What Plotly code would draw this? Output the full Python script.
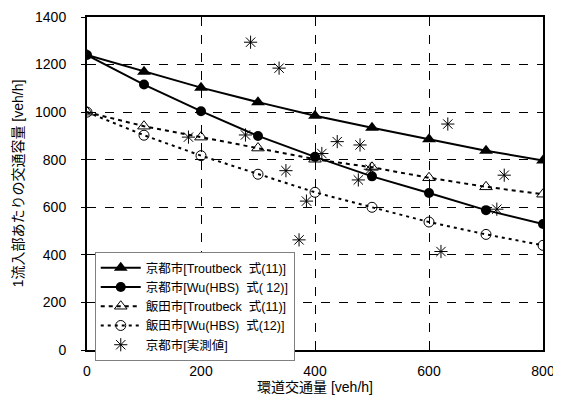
import plotly.graph_objects as go

x_calc = [0, 100, 200, 300, 400, 500, 600, 700, 800]
kyoto_troutbeck = [1240, 1170, 1103, 1042, 985, 934, 886, 838, 797]
kyoto_wu = [1240, 1116, 1004, 900, 812, 730, 660, 588, 530]
iida_troutbeck = [1000, 941, 895, 849, 802, 768, 724, 686, 655]
iida_wu = [1000, 903, 817, 739, 663, 600, 538, 486, 440]

obs_x = [287, 337, 178, 278, 439, 479, 412, 349, 476, 385, 372, 497, 633, 732, 719, 621]
obs_y = [1294, 1185, 895, 904, 876, 862, 826, 754, 715, 626, 463, 760, 950, 735, 592, 414]

names = ["京都市[Troutbeck\u00a0\u00a0式(11)]",
         "京都市[Wu(HBS)\u00a0\u00a0式(\u00a012)]",
         "飯田市[Troutbeck\u00a0\u00a0式(11)]",
         "飯田市[Wu(HBS)\u00a0\u00a0式(12)]",
         "京都市[実測値]"]

FONT = "Liberation Sans, Arial, Noto Sans CJK JP, sans-serif"

fig = go.Figure()
fig.add_trace(go.Scatter(x=x_calc, y=kyoto_troutbeck, mode="lines+markers", name=names[0],
                         line=dict(color="black", width=2),
                         marker=dict(symbol="triangle-up", size=12, color="black")))
fig.add_trace(go.Scatter(x=x_calc, y=kyoto_wu, mode="lines+markers", name=names[1],
                         line=dict(color="black", width=2),
                         marker=dict(symbol="circle", size=10, color="black")))
fig.add_trace(go.Scatter(x=x_calc, y=iida_troutbeck, mode="lines+markers", name=names[2],
                         line=dict(color="black", width=2, dash="4px,4px"),
                         marker=dict(symbol="triangle-up-open", size=11, color="black",
                                     line=dict(width=1))))
fig.add_trace(go.Scatter(x=x_calc, y=iida_wu, mode="lines+markers", name=names[3],
                         line=dict(color="black", width=2, dash="3px,4px"),
                         marker=dict(symbol="circle-open", size=10, color="black",
                                     line=dict(width=1))))
fig.add_trace(go.Scatter(x=obs_x, y=obs_y, mode="markers", name=names[4],
                         marker=dict(symbol="asterisk-open", size=11, color="black",
                                     line=dict(width=1, color="black"))))

fig.update_layout(
    width=553, height=393,
    margin=dict(l=79, r=18, t=9, b=51),
    paper_bgcolor="white", plot_bgcolor="white",
    font=dict(family=FONT, size=14, color="black"),
    showlegend=True,
    legend=dict(x=0.017, y=0.294, xanchor="left", yanchor="top",
                bgcolor="white", bordercolor="#808080", borderwidth=1,
                font=dict(size=12.5), tracegroupgap=0, itemwidth=40),
)
fig.update_xaxes(range=[0, 800], tickvals=[0, 200, 400, 600, 800],
                 showline=True, linecolor="black", linewidth=2, mirror=True,
                 showgrid=True, gridcolor="black", griddash="dash", gridwidth=1,
                 ticks="", zeroline=False, ticklabelstandoff=7, automargin=False,
                 title=dict(text="環道交通量 [veh/h]", standoff=0, font=dict(size=14)))
fig.update_yaxes(range=[0, 1400], tickvals=[0, 200, 400, 600, 800, 1000, 1200, 1400],
                 showline=True, linecolor="black", linewidth=2, mirror=True,
                 showgrid=True, gridcolor="black", griddash="dash", gridwidth=1,
                 ticks="outside", ticklen=4, tickcolor="black", zeroline=False,
                 ticklabelstandoff=12, automargin=False,
                 title=dict(text="1流入部あたりの交通容量 [veh/h]", standoff=8, font=dict(size=14)))

fig.write_html("out.html")
